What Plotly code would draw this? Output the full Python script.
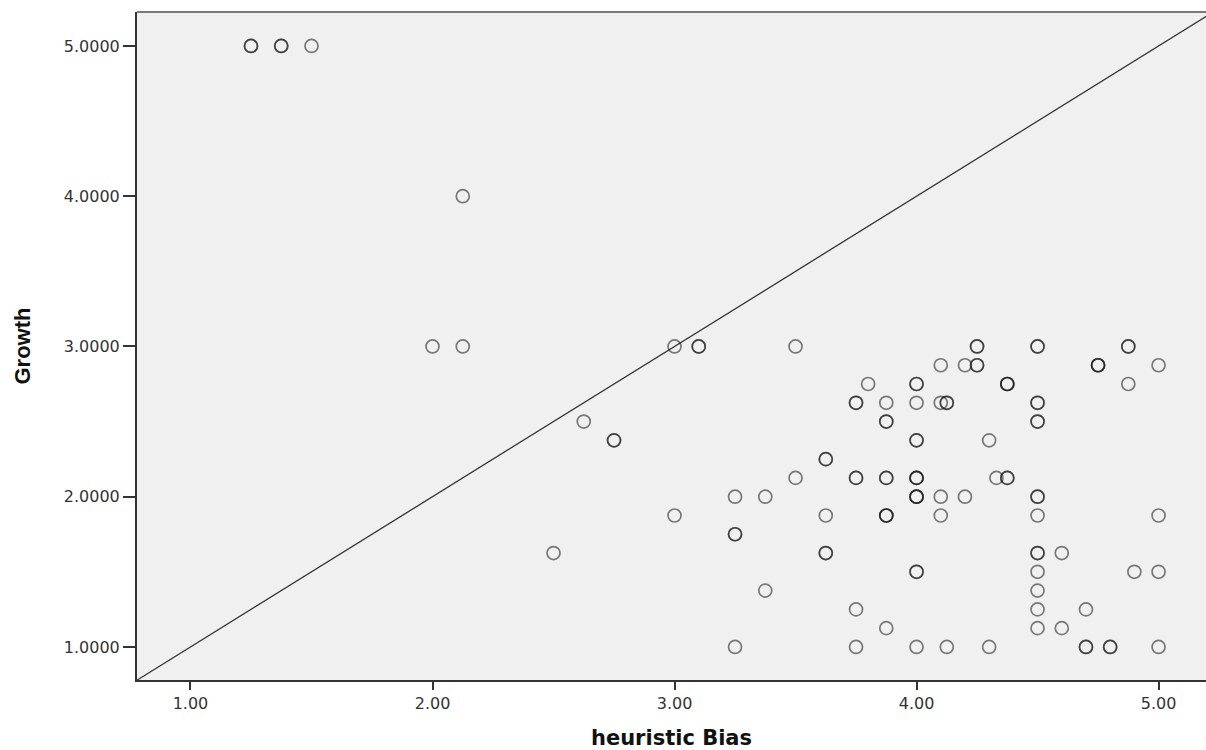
import plotly.graph_objects as go

# heuristic Bias (x) and Growth (y); repeated pairs are repeated observations
heuristic_bias = [
    1.25, 1.25, 1.375, 1.375, 1.5,
    2.125,
    2.0, 2.125, 3.0, 3.1, 3.1, 3.5,
    4.25, 4.25, 4.5, 4.5, 4.875, 4.875,
    4.1, 4.2, 4.25, 4.25, 4.75, 4.75, 4.75, 5.0,
    3.8, 4.0, 4.0, 4.375, 4.375, 4.375, 4.875,
    3.75, 3.75, 3.875, 4.0, 4.1, 4.125, 4.125, 4.5, 4.5,
    2.625, 3.875, 3.875, 4.5, 4.5,
    2.75, 2.75, 4.0, 4.0, 4.3,
    3.625, 3.625,
    3.5, 3.75, 3.75, 3.875, 3.875, 4.0, 4.0, 4.0, 4.33, 4.375, 4.375,
    3.25, 3.375, 4.0, 4.0, 4.0, 4.1, 4.2, 4.5, 4.5,
    3.0, 3.625, 3.875, 3.875, 3.875, 4.1, 4.5, 5.0,
    3.25, 3.25,
    2.5, 3.625, 3.625, 4.5, 4.5, 4.6,
    4.0, 4.0, 4.5, 4.9, 5.0,
    3.375, 4.5,
    3.75, 4.5, 4.7,
    3.875, 4.5, 4.6,
    3.25, 3.75, 4.0, 4.125, 4.3, 4.7, 4.7, 4.8, 4.8, 5.0,
]
growth = [
    5.0, 5.0, 5.0, 5.0, 5.0,
    4.0,
    3.0, 3.0, 3.0, 3.0, 3.0, 3.0,
    3.0, 3.0, 3.0, 3.0, 3.0, 3.0,
    2.875, 2.875, 2.875, 2.875, 2.875, 2.875, 2.875, 2.875,
    2.75, 2.75, 2.75, 2.75, 2.75, 2.75, 2.75,
    2.625, 2.625, 2.625, 2.625, 2.625, 2.625, 2.625, 2.625, 2.625,
    2.5, 2.5, 2.5, 2.5, 2.5,
    2.375, 2.375, 2.375, 2.375, 2.375,
    2.25, 2.25,
    2.125, 2.125, 2.125, 2.125, 2.125, 2.125, 2.125, 2.125, 2.125, 2.125, 2.125,
    2.0, 2.0, 2.0, 2.0, 2.0, 2.0, 2.0, 2.0, 2.0,
    1.875, 1.875, 1.875, 1.875, 1.875, 1.875, 1.875, 1.875,
    1.75, 1.75,
    1.625, 1.625, 1.625, 1.625, 1.625, 1.625,
    1.5, 1.5, 1.5, 1.5, 1.5,
    1.375, 1.375,
    1.25, 1.25, 1.25,
    1.125, 1.125, 1.125,
    1.0, 1.0, 1.0, 1.0, 1.0, 1.0, 1.0, 1.0, 1.0, 1.0,
]

# reference line y = x
ref_line = [0.5, 5.5]

x_ticks = [1, 2, 3, 4, 5]
x_tick_labels = ["1.00", "2.00", "3.00", "4.00", "5.00"]
y_ticks = [1, 2, 3, 4, 5]
y_tick_labels = ["1.0000", "2.0000", "3.0000", "4.0000", "5.0000"]

fig = go.Figure()

fig.add_trace(go.Scatter(
    x=ref_line, y=ref_line, mode="lines",
    line=dict(color="#333333", width=1.3),
    hoverinfo="skip", showlegend=False,
))

fig.add_trace(go.Scatter(
    x=heuristic_bias, y=growth, mode="markers",
    marker=dict(symbol="circle-open", size=13,
                color="rgba(20,20,20,0.55)",
                line=dict(width=1.7, color="rgba(20,20,20,0.55)")),
    showlegend=False,
))

fig.add_shape(type="line", xref="paper", yref="paper",
              x0=0, x1=1, y0=1, y1=1,
              line=dict(color="#7a7a7a", width=2))

tick_font = dict(family="DejaVu Sans, sans-serif", size=16, color="#333333")

fig.update_layout(
    width=1206, height=750,
    margin=dict(l=137, r=0, t=12, b=70),
    paper_bgcolor="white",
    plot_bgcolor="#f0f0f0",
    xaxis=dict(
        range=[0.779, 5.196],
        tickmode="array", tickvals=x_ticks, ticktext=x_tick_labels,
        ticks="outside", ticklen=8, tickwidth=1.5, tickcolor="#333333",
        showline=True, linecolor="#333333", linewidth=2,
        showgrid=False, zeroline=False,
        tickfont=tick_font,
        title=dict(text="<b>heuristic Bias</b>", standoff=18,
                   font=dict(family="DejaVu Sans, sans-serif", size=21, color="#111111")),
    ),
    yaxis=dict(
        range=[0.780, 5.226],
        tickmode="array", tickvals=y_ticks, ticktext=y_tick_labels,
        ticks="outside", ticklen=12, tickwidth=1.5, tickcolor="#333333",
        showline=True, linecolor="#333333", linewidth=2,
        showgrid=False, zeroline=False,
        tickfont=tick_font,
        title=dict(text="<b>Growth</b>", standoff=27,
                   font=dict(family="Liberation Sans, Arial, sans-serif", size=22, color="#111111")),
    ),
)

fig.write_html("out.html", config={"displayModeBar": False},
               post_script="document.body.style.margin='0';")
